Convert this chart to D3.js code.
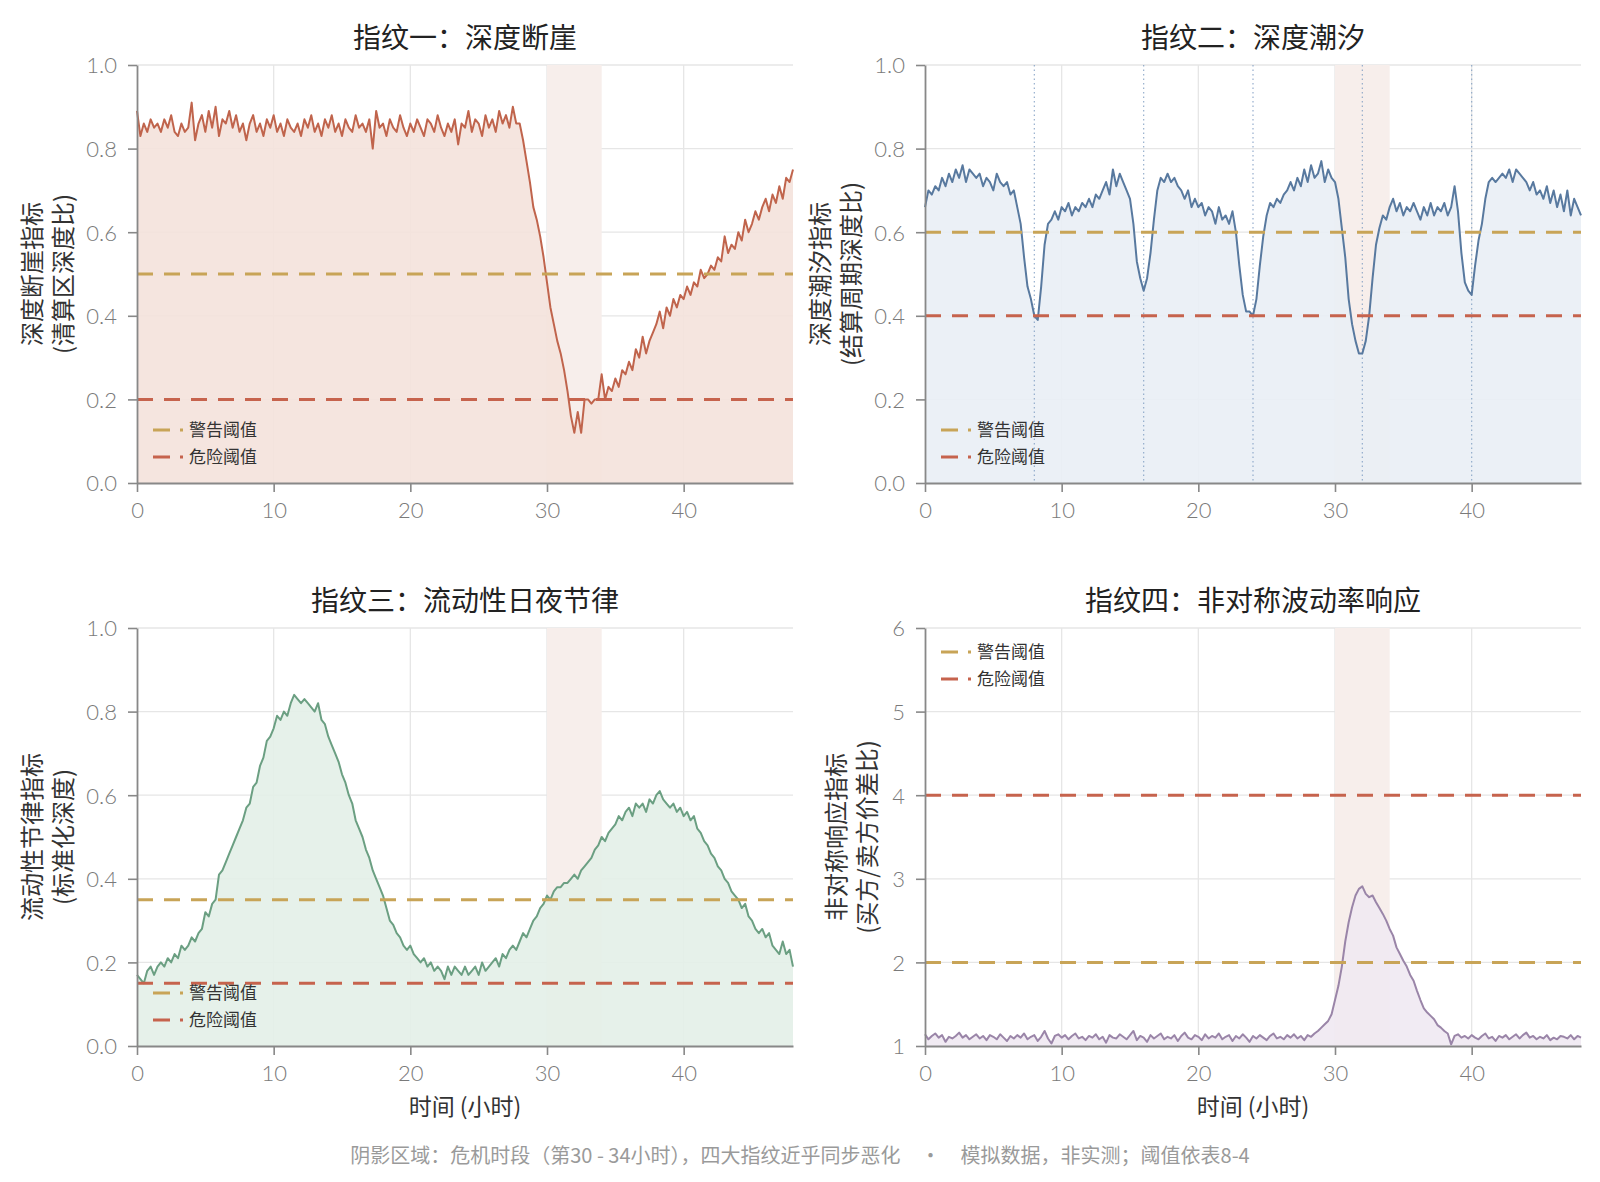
<!DOCTYPE html>
<html>
<head>
<meta charset="utf-8">
<script src="https://cdn.jsdelivr.net/npm/d3@7"></script>
<style>
body { margin: 0; background: #fff; }
svg text { font-family: "Noto Sans CJK SC", "Noto Sans", sans-serif; }
.tick text { font-family: Lato, "Noto Sans CJK SC", sans-serif; font-weight: 300; fill: #7a7a7a; font-size: 22px; }
</style>
</head>
<body>
<div id="chart"></div>
<script>
// time axis: 0..48 h, one reading every 15 minutes
const hours = d3.range(0, 48.001, 0.25)

// 指纹一 深度断崖 (one row per hour)
const cliff = [
  0.89, 0.83, 0.86, 0.84,  0.87, 0.85, 0.86, 0.84,  0.87, 0.85, 0.88, 0.84,  0.83, 0.86, 0.84, 0.85,
  0.91, 0.82, 0.86, 0.88,  0.84, 0.89, 0.85, 0.90,  0.83, 0.87, 0.86, 0.89,  0.85, 0.88, 0.84, 0.86,
  0.82, 0.86, 0.88, 0.84,  0.86, 0.83, 0.87, 0.85,  0.88, 0.84, 0.86, 0.83,  0.87, 0.85, 0.84, 0.86,
  0.83, 0.87, 0.85, 0.88,  0.84, 0.86, 0.83, 0.87,  0.85, 0.88, 0.84, 0.86,  0.83, 0.87, 0.85, 0.84,
  0.88, 0.85, 0.86, 0.84,  0.87, 0.80, 0.89, 0.85,  0.86, 0.83, 0.87, 0.85,  0.84, 0.88, 0.85, 0.83,
  0.86, 0.84, 0.87, 0.85,  0.83, 0.87, 0.86, 0.84,  0.88, 0.85, 0.83, 0.86,  0.84, 0.87, 0.81, 0.86,
  0.85, 0.89, 0.84, 0.87,  0.86, 0.83, 0.88, 0.85,  0.87, 0.84, 0.89, 0.86,  0.88, 0.85, 0.90, 0.86,
  0.86, 0.82, 0.77, 0.72,  0.66, 0.63, 0.59, 0.54,  0.48, 0.42, 0.38, 0.34,  0.31, 0.27, 0.22, 0.16,
  0.12, 0.17, 0.12, 0.20,  0.20, 0.19, 0.20, 0.20,  0.26, 0.20, 0.23, 0.22,  0.25, 0.23, 0.27, 0.26,
  0.29, 0.27, 0.32, 0.30,  0.35, 0.31, 0.34, 0.36,  0.38, 0.41, 0.37, 0.42,  0.40, 0.44, 0.42, 0.45,
  0.44, 0.47, 0.45, 0.48,  0.47, 0.51, 0.49, 0.50,  0.52, 0.51, 0.54, 0.53,  0.59, 0.55, 0.57, 0.56,
  0.60, 0.58, 0.63, 0.60,  0.62, 0.65, 0.63, 0.66,  0.68, 0.65, 0.69, 0.67,  0.71, 0.68, 0.73, 0.72,
  0.75
]

// 指纹二 深度潮汐
const tide = [
  0.66, 0.70, 0.69, 0.71,  0.70, 0.73, 0.71, 0.74,  0.72, 0.75, 0.73, 0.76,  0.72, 0.75, 0.74, 0.73,
  0.74, 0.71, 0.73, 0.72,  0.70, 0.74, 0.72, 0.71,  0.72, 0.69, 0.70, 0.66,  0.62, 0.54, 0.47, 0.44,
  0.40, 0.39, 0.47, 0.57,  0.62, 0.63, 0.65, 0.63,  0.66, 0.65, 0.67, 0.64,  0.66, 0.65, 0.67, 0.66,
  0.68, 0.66, 0.69, 0.68,  0.70, 0.72, 0.69, 0.75,  0.71, 0.74, 0.72, 0.70,  0.68, 0.62, 0.53, 0.49,
  0.46, 0.49, 0.55, 0.63,  0.70, 0.73, 0.72, 0.74,  0.72, 0.73, 0.71, 0.70,  0.68, 0.70, 0.66, 0.68,
  0.66, 0.67, 0.64, 0.66,  0.65, 0.62, 0.66, 0.63,  0.64, 0.62, 0.65, 0.60,  0.52, 0.45, 0.41, 0.41,
  0.40, 0.44, 0.52, 0.59,  0.64, 0.67, 0.66, 0.68,  0.67, 0.69, 0.70, 0.72,  0.70, 0.73, 0.71, 0.75,
  0.72, 0.76, 0.73, 0.74,  0.77, 0.72, 0.75, 0.73,  0.72, 0.68, 0.61, 0.54,  0.44, 0.38, 0.34, 0.31,
  0.31, 0.34, 0.40, 0.49,  0.57, 0.61, 0.64, 0.63,  0.66, 0.68, 0.65, 0.67,  0.64, 0.66, 0.65, 0.67,
  0.65, 0.63, 0.66, 0.64,  0.67, 0.64, 0.66, 0.65,  0.67, 0.64, 0.66, 0.71,  0.65, 0.55, 0.48, 0.46,
  0.45, 0.52, 0.58, 0.62,  0.68, 0.72, 0.73, 0.72,  0.73, 0.74, 0.73, 0.75,  0.72, 0.75, 0.74, 0.73,
  0.72, 0.70, 0.72, 0.69,  0.70, 0.68, 0.71, 0.67,  0.70, 0.66, 0.69, 0.65,  0.70, 0.64, 0.68, 0.66,
  0.64
]
const tideMarks = [8, 16, 24, 32, 40]

// 指纹三 流动性日夜节律
const rhythm = [
  0.17, 0.16, 0.15, 0.18,  0.19, 0.17, 0.19, 0.20,  0.19, 0.21, 0.20, 0.22,  0.21, 0.24, 0.23, 0.24,
  0.26, 0.25, 0.27, 0.28,  0.32, 0.31, 0.34, 0.35,  0.41, 0.42, 0.44, 0.46,  0.48, 0.50, 0.52, 0.54,
  0.57, 0.58, 0.62, 0.63,  0.67, 0.69, 0.73, 0.74,  0.76, 0.79, 0.78, 0.80,  0.79, 0.82, 0.84, 0.83,
  0.82, 0.83, 0.82, 0.81,  0.80, 0.82, 0.78, 0.77,  0.74, 0.72, 0.70, 0.68,  0.65, 0.63, 0.60, 0.58,
  0.54, 0.52, 0.50, 0.47,  0.45, 0.42, 0.40, 0.38,  0.36, 0.33, 0.30, 0.29,  0.27, 0.26, 0.24, 0.23,
  0.24, 0.22, 0.21, 0.20,  0.21, 0.19, 0.20, 0.18,  0.19, 0.18, 0.16, 0.19,  0.17, 0.19, 0.18, 0.17,
  0.19, 0.17, 0.18, 0.19,  0.17, 0.20, 0.18, 0.19,  0.20, 0.21, 0.19, 0.22,  0.21, 0.23, 0.24, 0.23,
  0.25, 0.27, 0.26, 0.28,  0.30, 0.31, 0.33, 0.34,  0.36, 0.35, 0.37, 0.38,  0.38, 0.39, 0.39, 0.40,
  0.41, 0.40, 0.42, 0.43,  0.44, 0.45, 0.47, 0.48,  0.50, 0.49, 0.51, 0.52,  0.53, 0.55, 0.54, 0.56,
  0.57, 0.55, 0.58, 0.57,  0.58, 0.56, 0.59, 0.58,  0.60, 0.61, 0.59, 0.58,  0.57, 0.58, 0.56, 0.57,
  0.55, 0.56, 0.54, 0.55,  0.52, 0.51, 0.49, 0.48,  0.46, 0.45, 0.43, 0.42,  0.40, 0.39, 0.37, 0.36,
  0.35, 0.33, 0.34, 0.31,  0.30, 0.28, 0.27, 0.28,  0.26, 0.27, 0.24, 0.23,  0.22, 0.25, 0.22, 0.23,
  0.19
]

// 指纹四 非对称波动率响应
const asym = [
  1.14, 1.08, 1.12, 1.15,  1.10, 1.13, 1.05, 1.11,  1.09, 1.12, 1.16, 1.10,  1.13, 1.08, 1.11, 1.14,
  1.09, 1.12, 1.07, 1.13,  1.11, 1.08, 1.14, 1.10,  1.06, 1.12, 1.09, 1.13,  1.10, 1.15, 1.08, 1.11,
  1.13, 1.06, 1.11, 1.18,  1.09, 1.03, 1.12, 1.14,  1.10, 1.13, 1.08, 1.12,  1.15, 1.09, 1.11, 1.07,
  1.12, 1.10, 1.14, 1.08,  1.11, 1.04, 1.13, 1.10,  1.09, 1.14, 1.11, 1.08,  1.13, 1.18, 1.07, 1.12,
  1.10, 1.05, 1.13, 1.09,  1.12, 1.15, 1.08, 1.11,  1.09, 1.13, 1.06, 1.12,  1.16, 1.10, 1.08, 1.13,
  1.11, 1.07, 1.14, 1.09,  1.12, 1.10, 1.15, 1.08,  1.11, 1.13, 1.06, 1.12,  1.09, 1.14, 1.10, 1.05,
  1.12, 1.09, 1.13, 1.10,  1.07, 1.12, 1.15, 1.09,  1.11, 1.08, 1.13, 1.10,  1.14, 1.09, 1.12, 1.07,
  1.13, 1.11, 1.15, 1.18,  1.22, 1.26, 1.30, 1.38,  1.55, 1.72, 1.95, 2.25,  2.48, 2.66, 2.80, 2.88,
  2.91, 2.82, 2.78, 2.80,  2.72, 2.65, 2.58, 2.50,  2.40, 2.32, 2.18, 2.10,  2.02, 1.95, 1.85, 1.78,
  1.66, 1.55, 1.45, 1.40,  1.36, 1.32, 1.25, 1.22,  1.18, 1.15, 1.02, 1.12,  1.14, 1.10, 1.12, 1.09,
  1.13, 1.10, 1.08, 1.12,  1.15, 1.09, 1.11, 1.06,  1.12, 1.10, 1.13, 1.08,  1.11, 1.14, 1.09, 1.13,
  1.16, 1.10, 1.12, 1.08,  1.11, 1.09, 1.13, 1.07,  1.10, 1.08, 1.12, 1.11,  1.09, 1.13, 1.08, 1.12,
  1.10
]

const crisis = [30, 34]
const xTicks = [0, 10, 20, 30, 40]
const legendLabels = ["警告阈值", "危险阈值"]
const titles = ["指纹一：深度断崖", "指纹二：深度潮汐", "指纹三：流动性日夜节律", "指纹四：非对称波动率响应"]
const yLabels = [
  ["深度断崖指标", "(清算区深度比)"],
  ["深度潮汐指标", "(结算周期深度比)"],
  ["流动性节律指标", "(标准化深度)"],
  ["非对称响应指标", "(买方/卖方价差比)"]
]
const warnLevels = [0.5, 0.6, 0.35, 2]
const dangerLevels = [0.2, 0.4, 0.15, 4]
const xTitle = "时间 (小时)"
const footnote = "阴影区域：危机时段（第30 - 34小时），四大指纹近乎同步恶化　·　模拟数据，非实测；阈值依表8-4"

const width = 1600
const height = 1182
const pw = 656, ph = 418
const warnColor = "#c8a457"
const dangerColor = "#c6634d"

const svg = d3.select("#chart").append("svg")
  .attr("width", width)
  .attr("height", height)

const panels = [
  { values: cliff, x: 137, y: 65, domain: [0, 1], ticks: [0, 0.2, 0.4, 0.6, 0.8, 1.0], fmt: d3.format(".1f"),
    color: "#c0644c", fill: "#f4e2dc", legendTop: false, labelOff: [104, 73], xTitle: false },
  { values: tide, x: 925, y: 65, domain: [0, 1], ticks: [0, 0.2, 0.4, 0.6, 0.8, 1.0], fmt: d3.format(".1f"),
    color: "#58799f", fill: "#e9eef5", legendTop: false, labelOff: [104, 73], xTitle: false, marks: tideMarks },
  { values: rhythm, x: 137, y: 628, domain: [0, 1], ticks: [0, 0.2, 0.4, 0.6, 0.8, 1.0], fmt: d3.format(".1f"),
    color: "#6b9f82", fill: "#e3f0e8", legendTop: false, labelOff: [104, 73], xTitle: true },
  { values: asym, x: 925, y: 628, domain: [1, 6], ticks: [1, 2, 3, 4, 5, 6], fmt: d3.format("d"),
    color: "#9a85a8", fill: "#efe9f2", legendTop: true, labelOff: [88, 57], xTitle: true }
]

panels.forEach((p, i) => {
  const g = svg.append("g").attr("transform", `translate(${p.x},${p.y})`)
  const x = d3.scaleLinear().domain([0, 48]).range([0, pw])
  const y = d3.scaleLinear().domain(p.domain).range([ph, 0])

  // grid
  g.append("g").selectAll("line.h").data(p.ticks.slice(1)).join("line")
    .attr("x1", 0).attr("x2", pw)
    .attr("y1", d => y(d)).attr("y2", d => y(d))
    .attr("stroke", "#e6e6e6").attr("stroke-width", 1.3)
  g.append("g").selectAll("line.v").data(xTicks.slice(1)).join("line")
    .attr("x1", d => x(d)).attr("x2", d => x(d))
    .attr("y1", 0).attr("y2", ph)
    .attr("stroke", "#e6e6e6").attr("stroke-width", 1.3)

  // crisis band
  g.append("rect")
    .attr("x", x(crisis[0])).attr("width", x(crisis[1]) - x(crisis[0]))
    .attr("y", 0).attr("height", ph)
    .attr("fill", "#f7eeeb")

  const pts = p.values.map((v, k) => [hours[k], v])
  g.append("path")
    .datum(pts)
    .attr("fill", p.fill)
    .attr("fill-opacity", 0.9)
    .attr("d", d3.area().x(d => x(d[0])).y0(y(p.domain[0])).y1(d => y(d[1])))

  if (p.marks) {
    g.append("g").selectAll("line").data(p.marks).join("line")
      .attr("x1", d => x(d)).attr("x2", d => x(d))
      .attr("y1", 0).attr("y2", ph)
      .attr("stroke", "#7d9cc2").attr("stroke-width", 1.2)
      .attr("stroke-dasharray", "1.5,3").attr("opacity", 0.8)
  }

  g.append("path")
    .datum(pts)
    .attr("fill", "none")
    .attr("stroke", p.color)
    .attr("stroke-width", 2)
    .attr("stroke-linejoin", "round")
    .attr("d", d3.line().x(d => x(d[0])).y(d => y(d[1])))

  // thresholds
  const lv = [[warnLevels[i], warnColor], [dangerLevels[i], dangerColor]]
  g.append("g").selectAll("line").data(lv).join("line")
    .attr("x1", 0).attr("x2", pw)
    .attr("y1", d => y(d[0])).attr("y2", d => y(d[0]))
    .attr("stroke", d => d[1]).attr("stroke-width", 3)
    .attr("stroke-dasharray", "16,11")

  // axes
  const ax = g.append("g").attr("transform", `translate(0,${ph})`)
    .call(d3.axisBottom(x).tickValues(xTicks).tickSize(9).tickSizeOuter(0).tickPadding(10))
  const ay = g.append("g")
    .call(d3.axisLeft(y).tickValues(p.ticks).tickFormat(p.fmt).tickSize(9).tickSizeOuter(0).tickPadding(11))
  ;[ax, ay].forEach(a => {
    a.select(".domain").attr("stroke", "#888").attr("stroke-width", 1.8)
    a.selectAll(".tick line").attr("stroke", "#888").attr("stroke-width", 1.6)
  })
  ay.selectAll(".tick text").attr("dy", "0.36em")

  // legend
  const ly = p.legendTop ? 24 : 365
  const leg = g.append("g").selectAll("g").data(legendLabels).join("g")
    .attr("transform", (d, k) => `translate(16,${ly + k * 27})`)
  leg.append("line").attr("x1", 0).attr("x2", 30)
    .attr("stroke", (d, k) => k === 0 ? warnColor : dangerColor)
    .attr("stroke-width", 3).attr("stroke-dasharray", "17,10")
  leg.append("text").attr("x", 36).attr("dy", "0.36em")
    .attr("font-size", 17).attr("fill", "#333").text(d => d)

  // title
  g.append("text").attr("x", pw / 2).attr("y", -27).attr("dy", "0.35em")
    .attr("text-anchor", "middle").attr("font-size", 28).attr("fill", "#222")
    .text(titles[i])

  // y label
  yLabels[i].forEach((t, k) => {
    g.append("text")
      .attr("transform", `translate(${-p.labelOff[k]},${ph / 2}) rotate(-90)`)
      .attr("text-anchor", "middle").attr("dy", "0.35em")
      .attr("font-size", 24).attr("fill", "#333")
      .text(t)
  })

  if (p.xTitle) {
    g.append("text").attr("x", pw / 2).attr("y", ph + 61).attr("dy", "0.35em")
      .attr("text-anchor", "middle").attr("font-size", 23).attr("fill", "#333")
      .text(xTitle)
  }
})

svg.append("text")
  .attr("x", width / 2).attr("y", 1156).attr("dy", "0.35em")
  .attr("text-anchor", "middle").attr("font-size", 20).attr("fill", "#9a9a9a")
  .text(footnote)
</script>
</body>
</html>
